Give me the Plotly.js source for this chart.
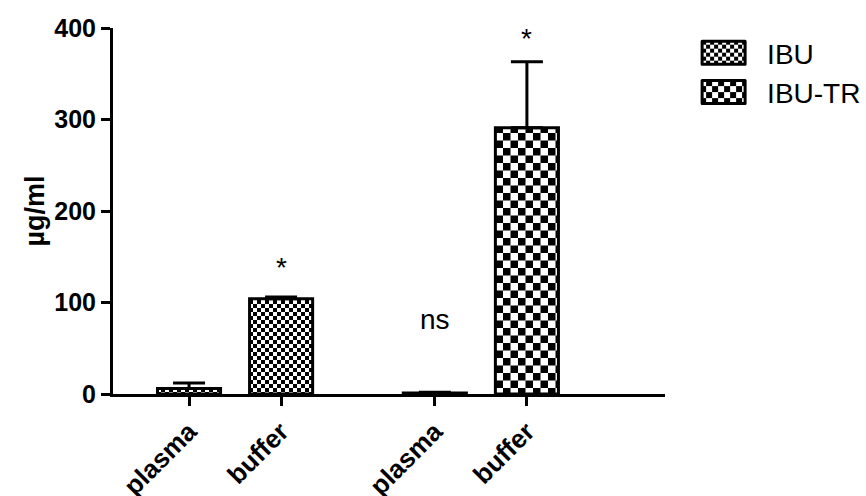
<!DOCTYPE html>
<html>
<head>
<meta charset="utf-8">
<script src="https://cdn.plot.ly/plotly-3.0.1.min.js"></script>
<style>html,body{margin:0;padding:0;background:#fff;}#chart{width:866px;height:496px;}</style>
</head>
<body>
<div id="chart"></div>
<script>
const tickLabels = ["plasma", "buffer", "plasma", "buffer"];
const tickPositions = [0, 1, 2.67, 3.67];
const seriesNames = ["IBU", "IBU-TR"];
const ibuX = [0, 1];
const ibuValues = [6, 104];
const ibuErrors = [6, 2];
const ibutrX = [2.67, 3.67];
const ibutrValues = [1, 291];
const ibutrErrors = [1, 72];
const markText = ["*", "ns", "*"];
const markX = [1, 2.67, 3.67];
const markY = [138, 81, 389];

const font = "Liberation Sans, Arial, sans-serif";
const FINE = 8, COARSE = 15;
const LEGEND_TILES = [8, 12];

const traces = [
  {
    type: "bar", name: seriesNames[0], x: ibuX, y: ibuValues, width: 0.685,
    marker: {color: "white", line: {color: "black", width: 3},
      pattern: {shape: ".", fgcolor: "black", bgcolor: "white", size: FINE, solidity: 0.5}},
    error_y: {type: "data", array: ibuErrors, arrayminus: [0, 0], symmetric: false, color: "black", thickness: 3, width: 16}
  },
  {
    type: "bar", name: seriesNames[1], x: ibutrX, y: ibutrValues, width: 0.685,
    marker: {color: "white", line: {color: "black", width: 3},
      pattern: {shape: ".", fgcolor: "black", bgcolor: "white", size: COARSE, solidity: 0.5}},
    error_y: {type: "data", array: ibutrErrors, arrayminus: [0, 0], symmetric: false, color: "black", thickness: 3, width: 16}
  }
];

const annotations = markText.map((t, i) => ({
  x: markX[i], y: markY[i], xref: "x", yref: "y", text: t, showarrow: false,
  font: {family: font, size: 28, color: "black"}
}));

const layout = {
  width: 866, height: 496,
  margin: {l: 113, r: 201, t: 28, b: 102, pad: 0, autoexpand: false},
  paper_bgcolor: "white", plot_bgcolor: "white",
  barmode: "overlay",
  showlegend: true,
  legend: {x: 1.031, y: 1.0, xanchor: "left", yanchor: "top",
    font: {family: font, size: 28, color: "black"}, itemwidth: 75},
  font: {family: font, color: "black"},
  xaxis: {
    range: [-0.826, 5.17], tickvals: tickPositions, ticktext: tickLabels,
    tickangle: -45, ticks: "outside", ticklen: 9, tickwidth: 3, tickcolor: "black",
    showline: true, linewidth: 3, linecolor: "black", showgrid: false, zeroline: false,
    tickfont: {family: font, size: 26, weight: "bold", color: "black"}, automargin: false
  },
  yaxis: {
    range: [0, 400], tickvals: [0, 100, 200, 300, 400],
    ticks: "outside", ticklen: 9, tickwidth: 3, tickcolor: "black",
    showline: true, linewidth: 3, linecolor: "black", showgrid: false, zeroline: false,
    tickfont: {family: font, size: 25, weight: "bold", color: "black"}, automargin: false,
    title: {text: "µg/ml", font: {family: font, size: 27, weight: "bold", color: "black"}, standoff: 2}
  },
  annotations: annotations
};

const NS = "http://www.w3.org/2000/svg";

function checker(pat, tile) {
  if (!tile && pat.getAttribute("data-checker")) return;
  const w = tile || parseFloat(pat.getAttribute("width"));
  if (!(w > 0)) return;
  pat.setAttribute("width", w); pat.setAttribute("height", w);
  pat.removeAttribute("patternTransform");
  while (pat.firstChild) pat.removeChild(pat.firstChild);
  const bg = document.createElementNS(NS, "rect");
  bg.setAttribute("width", w); bg.setAttribute("height", w); bg.setAttribute("fill", "white");
  pat.appendChild(bg);
  [[0, 0], [w / 2, w / 2]].forEach(([x, y]) => {
    const r = document.createElementNS(NS, "rect");
    r.setAttribute("x", x); r.setAttribute("y", y);
    r.setAttribute("width", w / 2); r.setAttribute("height", w / 2); r.setAttribute("fill", "black");
    pat.appendChild(r);
  });
  pat.setAttribute("data-checker", "1");
}

function legendPattern(p, tile, idx) {
  const defs = p.ownerSVGElement.querySelector("defs") || p.ownerSVGElement;
  const id = "legend-checker-" + idx;
  let pat = document.getElementById(id);
  if (!pat) {
    pat = document.createElementNS(NS, "pattern");
    pat.setAttribute("id", id);
    pat.setAttribute("patternUnits", "userSpaceOnUse");
    defs.appendChild(pat);
  }
  checker(pat, tile);
  p.style.fill = "url(#" + id + ")";
  p.setAttribute("fill", "url(#" + id + ")");
  p.style.fillOpacity = "1";
}

function restyleMarks(gd) {
  gd.querySelectorAll("pattern").forEach(p => { if (!p.id.startsWith("legend-checker")) checker(p); });
  gd.querySelectorAll("g.legend g.traces").forEach((item, i) => {
    const text = item.querySelector("text.legendtext");
    const p = item.querySelector("g.legendpoints path");
    if (!text || !p || p.getAttribute("data-done")) return;
    const tr = text.getBoundingClientRect();
    const pr = p.getBoundingClientRect();
    const cy = (pr.top + pr.bottom) / 2;
    p.removeAttribute("transform");
    const inv = p.parentNode.getScreenCTM().inverse();
    const svg = p.ownerSVGElement;
    const toLocal = (x, y) => { const pt = svg.createSVGPoint(); pt.x = x; pt.y = y; return pt.matrixTransform(inv); };
    const a = toLocal(tr.left - 65, cy - 11.5);
    const b = toLocal(tr.left - 22, cy + 11.5);
    p.setAttribute("d", `M${a.x},${a.y}H${b.x}V${b.y}H${a.x}Z`);
    p.style.strokeWidth = "3px";
    p.style.strokeLinejoin = "round";
    legendPattern(p, LEGEND_TILES[i] || 8, i);
    p.setAttribute("data-done", "1");
  });
}

Plotly.newPlot("chart", traces, layout, {displayModeBar: false, staticPlot: true}).then(gd => {
  restyleMarks(gd);
  gd.on("plotly_afterplot", () => restyleMarks(gd));
  setTimeout(() => restyleMarks(gd), 0);
  setTimeout(() => restyleMarks(gd), 200);
});
</script>
</body>
</html>
